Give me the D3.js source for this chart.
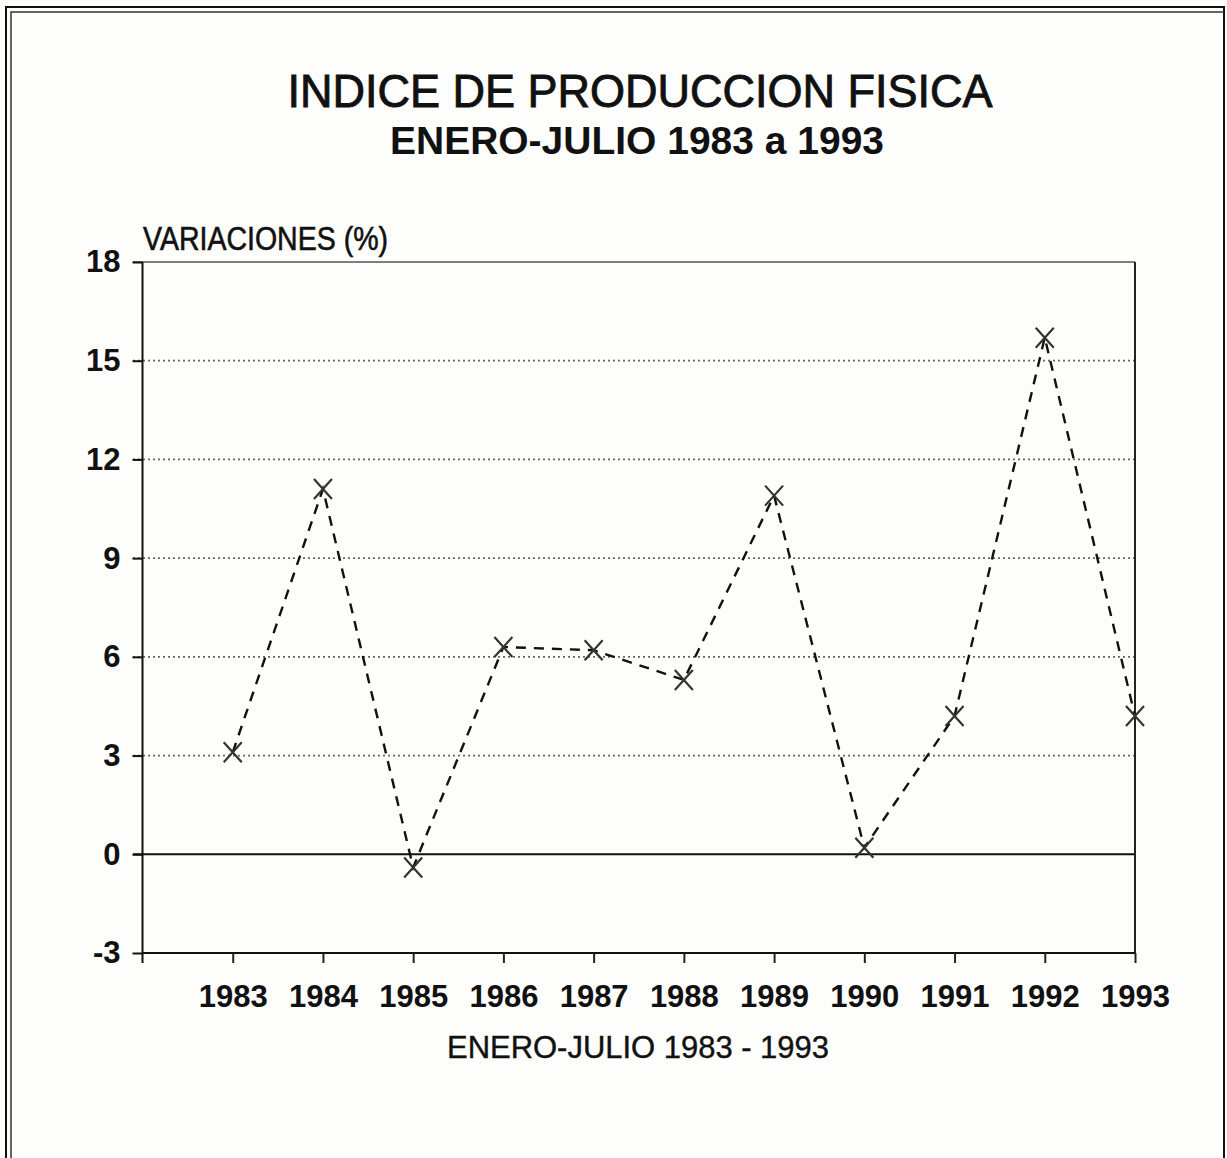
<!DOCTYPE html>
<html>
<head>
<meta charset="utf-8">
<script src="https://cdn.jsdelivr.net/npm/d3@7/dist/d3.min.js"></script>
<style>
  body { margin: 0; background: #fdfdfb; }
  svg { display: block; }
  text { font-family: "Liberation Sans Narrow", "Liberation Sans", Arial, sans-serif; fill: #111; }
</style>
</head>
<body>
<svg id="chart" width="1227" height="1158"></svg>
<script>
// data
var years = [1983, 1984, 1985, 1986, 1987, 1988, 1989, 1990, 1991, 1992, 1993];
var variaciones = [3.1, 11.1, -0.4, 6.3, 6.2, 5.3, 10.9, 0.2, 4.2, 15.7, 4.2];
var yTicks = [-3, 0, 3, 6, 9, 12, 15, 18];

var svg = d3.select("#chart");
var fam = "\"Liberation Sans Narrow\", \"Liberation Sans\", Arial, sans-serif";

// page frame (double line left/top)
svg.append("rect").attr("x", 6).attr("y", 7).attr("width", 1218).attr("height", 1200)
  .attr("fill", "none").attr("stroke", "#111").attr("stroke-width", 2);
svg.append("path").attr("d", "M11,1200 V12 H1224")
  .attr("fill", "none").attr("stroke", "#333").attr("stroke-width", 1.5);

var x = d3.scaleLinear().domain([1982, 1993]).range([142.5, 1135]);
var y = d3.scaleLinear().domain([-3, 18]).range([953, 262]);

// titles
svg.append("text").attr("x", 640).attr("y", 107).attr("text-anchor", "middle")
  .attr("font-size", 46).attr("textLength", 705).attr("lengthAdjust", "spacingAndGlyphs")
  .attr("stroke", "#111").attr("stroke-width", 0.9)
  .text("INDICE DE PRODUCCION FISICA");
svg.append("text").attr("x", 637).attr("y", 154).attr("text-anchor", "middle")
  .attr("font-size", 39).attr("font-weight", "bold").attr("textLength", 494).attr("lengthAdjust", "spacingAndGlyphs")
  .text("ENERO-JULIO 1983 a 1993");
svg.append("text").attr("x", 143).attr("y", 250)
  .attr("font-size", 34).attr("textLength", 245).attr("lengthAdjust", "spacingAndGlyphs")
  .attr("stroke", "#111").attr("stroke-width", 0.6)
  .text("VARIACIONES (%)");

// grid lines
var grid = svg.append("g");
grid.selectAll("line").data(yTicks.filter(function(d) { return d > 0 && d < 18; }))
  .enter().append("line")
    .attr("x1", 133).attr("x2", x(1993))
    .attr("y1", function(d) { return y(d); }).attr("y2", function(d) { return y(d); })
    .attr("stroke", "#666").attr("stroke-width", 1.8).attr("stroke-dasharray", "2,3");
grid.append("line").attr("x1", 133).attr("x2", x(1993)).attr("y1", y(18)).attr("y2", y(18))
  .attr("stroke", "#555").attr("stroke-width", 1.6);
grid.append("line").attr("x1", 133).attr("x2", x(1993)).attr("y1", y(0)).attr("y2", y(0))
  .attr("stroke", "#111").attr("stroke-width", 2);
grid.append("line").attr("x1", x(1993)).attr("x2", x(1993)).attr("y1", y(18)).attr("y2", y(-3))
  .attr("stroke", "#222").attr("stroke-width", 2);

// axes
var yAxis = d3.axisLeft(y).tickValues(yTicks).tickFormat(function(d) { return String(d); })
  .tickSize(10).tickPadding(12);
var gy = svg.append("g").attr("transform", "translate(" + x(1982) + ",0)").call(yAxis);
gy.select(".domain").attr("d", "M0," + y(18) + "V" + (y(-3) + 10)).attr("stroke", "#111").attr("stroke-width", 2);
gy.selectAll(".tick line").attr("stroke", "#111").attr("stroke-width", 2);
gy.selectAll(".tick text").attr("font-size", 31).attr("font-weight", "bold").attr("fill", "#111")
  .attr("font-family", fam);

var xAxis = d3.axisBottom(x).tickValues(years).tickFormat(d3.format("d")).tickSize(10).tickPadding(22);
var gx = svg.append("g").attr("transform", "translate(0," + y(-3) + ")").call(xAxis);
gx.select(".domain").attr("d", "M" + x(1982) + ",0H" + x(1993)).attr("stroke", "#111").attr("stroke-width", 2);
gx.selectAll(".tick line").attr("stroke", "#222").attr("stroke-width", 2);
gx.selectAll(".tick text").attr("font-size", 31).attr("font-weight", "bold").attr("fill", "#111")
  .attr("font-family", fam);

svg.append("text").attr("x", 638).attr("y", 1058).attr("text-anchor", "middle")
  .attr("font-size", 31).attr("textLength", 382).attr("lengthAdjust", "spacingAndGlyphs")
  .attr("stroke", "#111").attr("stroke-width", 0.4)
  .text("ENERO-JULIO 1983 - 1993");

// series
var pts = years.map(function(d, i) { return { year: d, value: variaciones[i] }; });
var line = d3.line().x(function(d) { return x(d.year); }).y(function(d) { return y(d.value); });
svg.append("path").datum(pts).attr("d", line)
  .attr("fill", "none").attr("stroke", "#111").attr("stroke-width", 2.4).attr("stroke-dasharray", "10,8");

svg.append("g").selectAll("path").data(pts).enter().append("path")
  .attr("transform", function(d) { return "translate(" + x(d.year) + "," + y(d.value) + ")"; })
  .attr("d", "M-9,-10L9,10M-9,10L9,-10")
  .attr("stroke", "#333").attr("stroke-width", 2.2).attr("fill", "none");
</script>
</body>
</html>
